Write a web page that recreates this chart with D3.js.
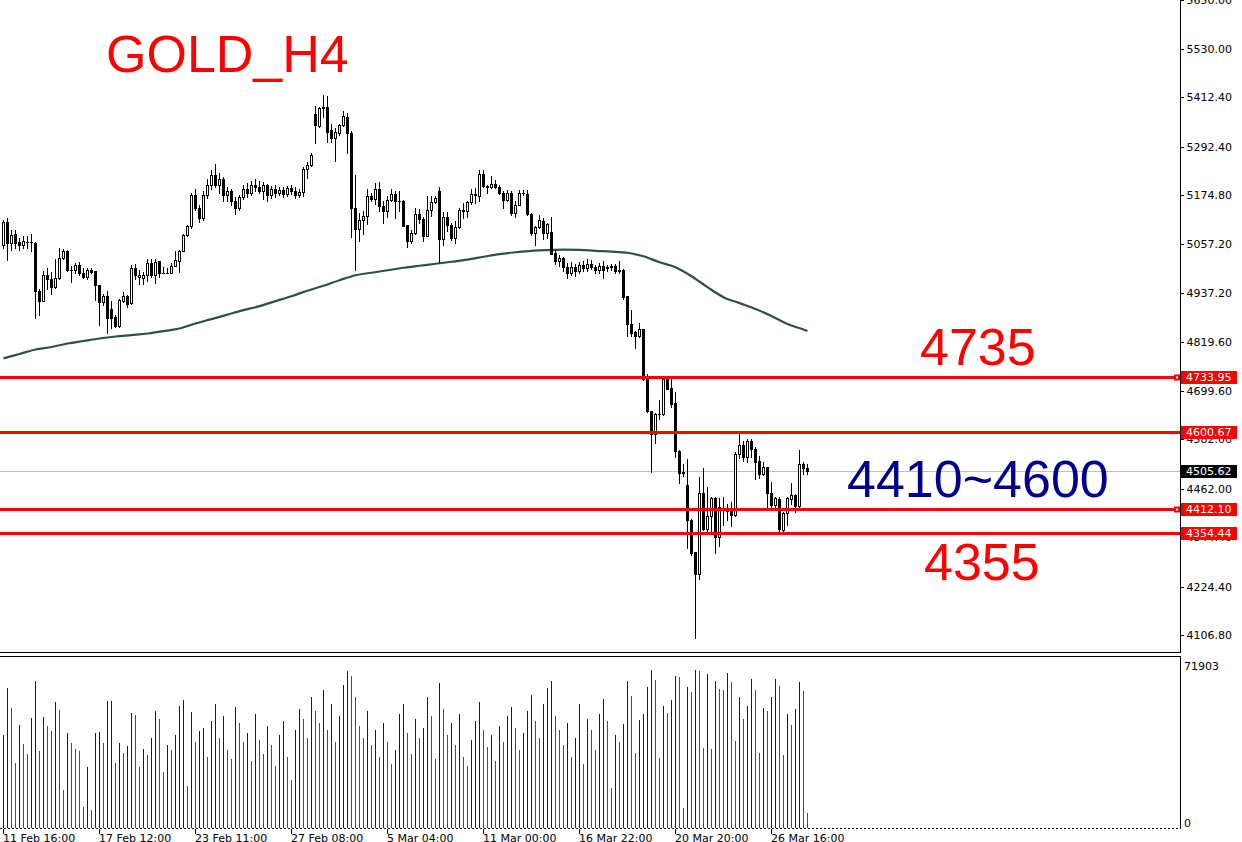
<!DOCTYPE html>
<html><head><meta charset="utf-8">
<script src="https://cdn.jsdelivr.net/npm/d3@7"></script>
<style>html,body{margin:0;padding:0;background:#fff;overflow:hidden}</style>
</head><body>
<svg id="c" width="1242" height="842"></svg>
<script>
// ---- DATA ----
// H4 candles: [open, high, low, close]
const ohlc = [
[5055,5115,5047,5111],[5111,5119,5018,5059],[5059,5091,5043,5079],[5081,5091,5047,5059],[5061,5071,5043,5054],
[5054,5075,5047,5063],[5062,5075,5047,5062],[5062,5081,5039,5061],[5060,5061,4877,4943],[4943,4946,4885,4918],
[4919,4990,4918,4981],[4981,4998,4948,4972],[4972,4989,4934,4952],[4952,5021,4950,4974],[4974,5047,4972,5022],
[5022,5044,5021,5039],[5039,5043,4990,4993],[4994,5002,4964,4994],[4993,5010,4986,5005],[5005,5012,4982,4986],
[4987,4998,4974,4977],[4976,4998,4972,4993],[4994,4999,4985,4988],[4990,4992,4920,4956],[4956,4958,4860,4916],
[4916,4935,4909,4930],[4930,4943,4841,4877],[4898,4917,4853,4877],[4879,4885,4855,4857],[4857,4923,4855,4920],
[4918,4940,4915,4930],[4930,4932,4903,4911],[4912,5006,4911,4997],[4997,5009,4972,4981],[4976,4994,4960,4982],
[4974,4988,4960,4981],[4981,5021,4966,5010],[5010,5021,4976,4981],[4982,5021,4962,5012],[5014,5014,4976,4986],
[4987,5000,4985,4987],[4987,4998,4985,4987],[4987,5010,4985,5004],[5004,5040,5002,5017],[5016,5043,4989,5040],
[5040,5081,5039,5079],[5079,5103,5075,5099],[5099,5180,5095,5175],[5175,5190,5140,5143],[5143,5150,5110,5120],
[5120,5185,5115,5175],[5175,5215,5168,5200],[5200,5235,5190,5225],[5225,5250,5195,5200],[5200,5230,5180,5215],
[5215,5218,5160,5175],[5175,5195,5160,5185],[5185,5190,5150,5160],[5160,5170,5130,5145],[5145,5175,5140,5170],
[5170,5200,5165,5190],[5190,5205,5170,5180],[5180,5210,5175,5200],[5200,5215,5185,5195],[5195,5210,5180,5185],
[5185,5206,5165,5200],[5200,5203,5160,5175],[5175,5198,5168,5190],[5190,5200,5170,5180],[5180,5195,5175,5188],
[5188,5196,5170,5178],[5178,5198,5172,5192],[5192,5200,5178,5185],[5185,5195,5168,5175],[5175,5190,5170,5182],
[5182,5244,5172,5239],[5239,5256,5216,5248],[5248,5277,5247,5273],[5372,5392,5301,5345],[5344,5390,5340,5387],
[5387,5418,5365,5388],[5388,5416,5303,5329],[5333,5347,5305,5313],[5313,5337,5259,5329],[5327,5349,5321,5345],
[5345,5379,5344,5367],[5365,5374,5277,5325],[5327,5330,5073,5143],[5145,5224,4994,5093],[5093,5131,5064,5114],
[5114,5136,5081,5125],[5125,5190,5105,5173],[5173,5181,5160,5166],[5166,5204,5153,5190],[5190,5206,5136,5148],
[5149,5160,5107,5137],[5137,5172,5122,5164],[5164,5190,5160,5178],[5178,5184,5119,5160],[5162,5184,5136,5162],
[5162,5164,5099,5101],[5102,5103,5049,5064],[5064,5090,5059,5083],[5083,5143,5081,5130],[5130,5141,5107,5117],
[5118,5121,5063,5077],[5077,5174,5075,5140],[5140,5172,5125,5158],[5158,5173,5156,5169],[5184,5196,5013,5069],
[5069,5134,5055,5123],[5123,5133,5087,5102],[5103,5107,5067,5071],[5071,5113,5059,5098],[5098,5143,5095,5140],
[5140,5156,5119,5137],[5137,5162,5121,5158],[5158,5190,5154,5178],[5176,5192,5156,5178],[5173,5236,5162,5227],
[5227,5235,5196,5198],[5198,5200,5180,5195],[5195,5222,5192,5203],[5203,5211,5192,5194],[5196,5200,5178,5180],
[5181,5184,5143,5164],[5164,5188,5160,5181],[5181,5184,5127,5131],[5131,5162,5123,5152],[5152,5188,5150,5181],
[5180,5188,5176,5180],[5179,5188,5127,5129],[5130,5131,5079,5083],[5083,5099,5055,5097],[5097,5127,5095,5115],
[5113,5119,5069,5083],[5083,5107,5071,5105],[5085,5121,5031,5032],[5034,5041,5008,5014],[5014,5030,5004,5022],
[5022,5026,4990,5000],[5000,5010,4975,4985],[4985,5012,4980,5000],[5000,5008,4978,4990],[4990,5012,4985,5005],
[5005,5015,4990,4998],[4998,5020,4992,5008],[5008,5018,4995,5000],[5000,5006,4985,4993],[4993,5010,4985,5002],
[5002,5014,4974,4994],[4998,5005,4990,5000],[5000,5008,4994,5002],[5002,5007,4986,4990],[4990,5014,4986,4994],
[4994,4995,4924,4927],[4929,4930,4833,4861],[4861,4897,4833,4841],[4843,4845,4803,4834],[4833,4865,4831,4849],
[4849,4851,4726,4728],[4732,4740,4648,4650],[4651,4652,4502,4595],[4595,4647,4572,4643],[4643,4677,4631,4644],
[4643,4732,4642,4728],[4728,4734,4704,4705],[4706,4730,4660,4669],[4670,4696,4540,4553],[4553,4555,4476,4500],
[4503,4521,4492,4501],[4472,4534,4318,4387],[4387,4388,4300,4307],[4308,4309,4099,4254],[4254,4490,4242,4452],
[4452,4513,4361,4365],[4365,4466,4355,4397],[4397,4443,4359,4439],[4440,4443,4305,4346],[4346,4440,4322,4417],
[4416,4442,4373,4416],[4413,4426,4385,4408],[4408,4430,4371,4399],[4399,4551,4396,4547],[4547,4597,4537,4569],
[4569,4579,4530,4538],[4538,4583,4526,4579],[4579,4583,4538,4559],[4559,4564,4486,4528],[4530,4542,4488,4498],
[4498,4526,4496,4514],[4514,4516,4415,4452],[4452,4478,4415,4423],[4423,4442,4413,4439],[4438,4443,4357,4365],
[4361,4405,4357,4404],[4404,4443,4373,4439],[4438,4475,4426,4447],[4447,4450,4405,4420],[4420,4555,4416,4522],
[4522,4526,4498,4513],[4513,4521,4498,4505.62]
];
const volumes = [
39170,58900,50500,27420,43370,35390,31200,46310,61840,32460,
46730,42950,40850,53020,49660,16090,40010,35810,33300,32460,
8950,25740,7690,40010,40430,35810,53440,53500,27420,35810,
31620,34560,48410,47570,25740,33300,30780,37910,49240,45890,
23640,34980,32880,39170,51340,53860,17770,48820,36230,40850,
42000,30000,45000,52000,38000,47000,33000,29000,51000,44000,
36000,40000,28000,48000,37000,31000,43000,35000,26000,39000,
45000,30000,20000,41000,50000,46000,38000,55000,49000,44000,
58000,41000,52000,36000,47000,60000,66000,64000,55000,43000,
38000,49000,35000,41000,30000,44000,36000,27000,33000,48000,
52000,40000,31000,46000,38000,42000,55000,47000,29000,61000,
50000,39000,44000,35000,48000,30000,26000,37000,45000,53000,
41000,34000,39000,28000,43000,36000,47000,51000,42000,33000,
40000,49000,56000,45000,38000,52000,59000,62000,47000,41000,
35000,44000,30000,38000,52000,27000,46000,41000,33000,48000,
54280,45050,16930,39170,36230,43790,61840,55540,31620,45470,
47990,59320,66450,62260,29520,51340,48410,53860,63930,63510,
8530,59320,57220,66450,66030,33720,64770,33300,61840,58480,
58060,65190,61420,36650,55120,45890,51340,62680,58060,31620,
50500,49240,55120,62680,59740,30780,47990,43370,50080,61420,
57640,6440
];
const maBars = [0,4,8,12,16,20,24,28,32,36,40,44,48,52,56,60,64,68,72,76,80,84,88,92,96,100,
  104,108,112,116,120,124,128,132,136,140,144,148,152,156,160,164,168,172,176,180,184,188,192,196,200,201];
const maValues = [4778.5,4789.4,4800.3,4806.3,4814.8,4820.8,4826.9,4831.7,4835.3,4839.0,4845.0,4851.1,
  4863.2,4874.1,4885.0,4895.9,4905.6,4917.7,4929.7,4943.0,4955.1,4968.5,4980.6,4986.6,4992.7,4998.7,
  5003.6,5008.4,5013.3,5018.6,5025.4,5031.9,5036.3,5039.9,5041.6,5042.8,5042.3,5039.9,5038.0,5035.1,
  5026.6,5012.0,4999.9,4978.2,4951.5,4927.3,4912.8,4898.3,4881.4,4862.0,4848.7,4845.0];
const priceTicks = [5650.00,5530.00,5412.40,5292.40,5174.80,5057.20,4937.20,4819.60,4699.60,4582.00,4462.00,4344.40,4224.40,4106.80];
const dateBars = [0,24,48,72,96,120,144,168,192];
const dateLabels = ["11 Feb 16:00","17 Feb 12:00","23 Feb 11:00","27 Feb 08:00","5 Mar 04:00","11 Mar 00:00","16 Mar 22:00","20 Mar 20:00","26 Mar 16:00"];
const levels = [4733.95, 4600.67, 4412.10, 4354.44];
const markedLevels = [4733.95, 4412.10];
const lastPrice = 4505.62;
const volumeMax = 71903;
const titleText = "GOLD_H4";
const noteTexts = ["4735", "4410~4600", "4355"];

// ---- DRAWING ----
const svg = d3.select('#c');
const axisX = 1180;
const x = d3.scaleLinear().domain([0, 201]).range([3, 807]);
const y = d3.scaleLinear().domain([4106.8, 5530]).range([635, 49]);
const v = d3.scaleLinear().domain([0, volumeMax]).range([828, 657]);
const col = i => Math.round(x(i));

svg.append('defs').append('clipPath').attr('id','mainClip')
  .append('rect').attr('x',0).attr('y',0).attr('width',axisX).attr('height',652);
svg.append('defs').append('clipPath').attr('id','volClip')
  .append('rect').attr('x',0).attr('y',657).attr('width',axisX).attr('height',172);

const main = svg.append('g').attr('clip-path','url(#mainClip)');

// current price line
main.append('line').attr('x1',0).attr('x2',axisX)
  .attr('y1',Math.round(y(lastPrice))+0.5).attr('y2',Math.round(y(lastPrice))+0.5)
  .attr('stroke','#c0c0c0').attr('stroke-width',1).attr('shape-rendering','crispEdges');

// moving average
const maPts = maBars.map((b,i)=>[x(b)+0.5, y(maValues[i])]);
main.append('path').attr('d', d3.line().curve(d3.curveMonotoneX)(maPts))
  .attr('fill','none').attr('stroke','#2F4F4F').attr('stroke-width',2.2);

// candles
const cg = main.append('g').attr('shape-rendering','crispEdges');
ohlc.forEach((d,i)=>{
  const [o,h,l,c] = d;
  const cx = col(i);
  cg.append('line').attr('x1',cx+0.5).attr('x2',cx+0.5)
    .attr('y1',Math.round(y(h))).attr('y2',Math.round(y(l))+1)
    .attr('stroke','#000').attr('stroke-width',1);
  const yt = Math.round(y(Math.max(o,c))), yb = Math.round(y(Math.min(o,c)));
  if (yb - yt < 1) {
    cg.append('line').attr('x1',cx-1).attr('x2',cx+2).attr('y1',yt+0.5).attr('y2',yt+0.5)
      .attr('stroke','#000').attr('stroke-width',1);
  } else {
    cg.append('rect').attr('x',cx-0.5).attr('y',yt+0.5).attr('width',2).attr('height',yb-yt)
      .attr('fill', c < o ? '#000' : '#fff').attr('stroke','#000').attr('stroke-width',1);
  }
});

// horizontal level lines
levels.forEach(p=>{
  const yy = Math.round(y(p));
  main.append('line').attr('x1',0).attr('x2',axisX).attr('y1',yy+0.5).attr('y2',yy+0.5)
    .attr('stroke','#ff0000').attr('stroke-width',3).attr('shape-rendering','crispEdges');
});
markedLevels.forEach(p=>{
  const yy = Math.round(y(p));
  svg.append('rect').attr('x',axisX-6).attr('y',yy-2.5).attr('width',6).attr('height',6).attr('fill','#ff0000');
  svg.append('rect').attr('x',axisX-4).attr('y',yy-0.5).attr('width',2).attr('height',2).attr('fill','#fff');
});

// big annotations
const big = 'font-family:"Liberation Sans",Arial,sans-serif;font-size:52px';
svg.append('text').attr('x',106).attr('y',72).attr('style',big).attr('fill','#ff0000').text(titleText);
svg.append('text').attr('x',920).attr('y',365).attr('style',big).attr('fill','#ff0000').text(noteTexts[0]);
svg.append('text').attr('x',847).attr('y',497).attr('style',big).attr('fill','#00008B').text(noteTexts[1]);
svg.append('text').attr('x',924).attr('y',580).attr('style',big).attr('fill','#ff0000').text(noteTexts[2]);

// frames
const fr = svg.append('g').attr('stroke','#000').attr('stroke-width',1).attr('shape-rendering','crispEdges');
fr.append('line').attr('x1',axisX+0.5).attr('x2',axisX+0.5).attr('y1',0).attr('y2',653);
fr.append('line').attr('x1',0).attr('x2',axisX+1).attr('y1',652.5).attr('y2',652.5);
fr.append('line').attr('x1',0).attr('x2',axisX+1).attr('y1',656.5).attr('y2',656.5);
fr.append('line').attr('x1',axisX+0.5).attr('x2',axisX+0.5).attr('y1',656).attr('y2',829);
fr.append('line').attr('x1',0).attr('x2',axisX).attr('y1',828.5).attr('y2',828.5).attr('stroke-dasharray','2,2');

// price axis
const axFont = '"DejaVu Sans",Verdana,sans-serif';
const ax = svg.append('g').attr('transform',`translate(${axisX+0.5},0)`)
  .call(d3.axisRight(y).tickValues(priceTicks).tickFormat(d=>d.toFixed(2)).tickSize(3).tickPadding(3));
ax.select('.domain').remove();
ax.selectAll('text').attr('font-family',axFont).attr('font-size','11px').attr('fill','#000');
ax.selectAll('line').attr('stroke','#000').attr('shape-rendering','crispEdges');

// price labels for levels
function priceTag(p, bg){
  const yy = Math.round(y(p));
  svg.append('rect').attr('x',axisX+1).attr('y',yy-6).attr('width',56).attr('height',13).attr('fill',bg);
  svg.append('text').attr('x',axisX+6).attr('y',yy+0.5).attr('dy','0.35em')
    .attr('font-family',axFont).attr('font-size','11px').attr('fill','#fff').text(p.toFixed(2));
}
levels.forEach(p=>priceTag(p,'#ff0000'));
priceTag(lastPrice,'#000');

// volume bars
const vg = svg.append('g').attr('clip-path','url(#volClip)').attr('shape-rendering','crispEdges');
volumes.forEach((val,i)=>{
  const up = i === 0 || val > volumes[i-1];
  vg.append('line').attr('x1',col(i)+0.5).attr('x2',col(i)+0.5)
    .attr('y1',828).attr('y2',Math.round(v(val)))
    .attr('stroke', up ? '#0000ff' : '#ff0000').attr('stroke-width',1);
});
svg.append('text').attr('x',axisX+4).attr('y',666).attr('dy','0.35em')
  .attr('font-family',axFont).attr('font-size','11px').attr('fill','#000').text(String(volumeMax));
svg.append('text').attr('x',axisX+4).attr('y',823).attr('dy','0.35em')
  .attr('font-family',axFont).attr('font-size','11px').attr('fill','#000').text('0');

// time axis
const tg = svg.append('g');
dateBars.forEach((b,i)=>{
  const tx = col(b)+0.5;
  tg.append('line').attr('x1',tx).attr('x2',tx).attr('y1',829).attr('y2',834)
    .attr('stroke','#000').attr('shape-rendering','crispEdges');
  tg.append('text').attr('x',col(b)).attr('y',842)
    .attr('font-family',axFont).attr('font-size','11px').attr('fill','#000').text(dateLabels[i]);
});
</script>
</body></html>
